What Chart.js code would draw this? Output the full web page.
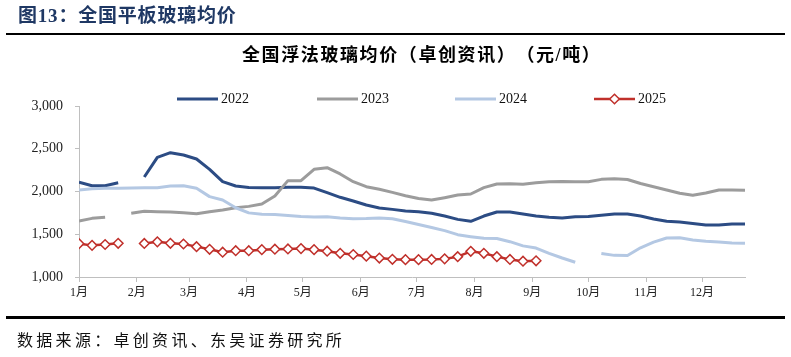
<!DOCTYPE html>
<html><head><meta charset="utf-8">
<script src="https://cdn.jsdelivr.net/npm/chart.js@4.4.1/dist/chart.umd.min.js"></script>
<style>
html,body{margin:0;padding:0;background:#fff;}
#wrap{position:relative;width:791px;height:357px;overflow:hidden;background:#fff;}
#c{position:absolute;left:0;top:0;}
.t{position:absolute;white-space:nowrap;font-family:"Liberation Serif","Noto Sans CJK SC",serif;text-spacing-trim:space-all;}
.rule{position:absolute;background:#000;}
.lg{position:absolute;font-family:"Liberation Serif",serif;font-size:14px;line-height:14px;color:#111;}
</style></head><body>
<div id="wrap">
<canvas id="c" width="791" height="357"></canvas>
<div class="t" id="mainTitle" style="left:18px;top:6px;font-size:19px;line-height:20px;font-weight:700;color:#1F3864;letter-spacing:0.8px;">图13：全国平板玻璃均价</div>
<div class="rule" style="left:6px;top:33px;width:779px;height:2px;"></div>
<div class="t" id="chartTitle" style="left:242px;top:45px;font-size:18px;line-height:20px;font-weight:700;color:#000;letter-spacing:1.6px;">全国浮法玻璃均价（卓创资讯）（元/吨）</div>
<div class="rule" style="left:6px;top:316px;width:779px;height:3px;"></div>
<div class="t" id="source" style="left:17px;top:332px;font-size:16px;line-height:18px;color:#111;letter-spacing:3.3px;">数据来源：卓创资讯、东吴证券研究所</div>
<div id="legend"></div>
</div>
<script>
// ---- data ----
const weeks = Array.from({length: 52}, (_, i) => i + 1); // week number categories
const monthLabels = ['1月','2月','3月','4月','5月','6月','7月','8月','9月','10月','11月','12月'];
const monthStartDay = [0,31,59,90,120,151,181,212,243,273,304,334];
const yTicks = [1000,1500,2000,2500,3000];
const seriesNames = ['2022','2023','2024','2025'];

const v2022 = [2108,2068,2068,2103,null,2170,2400,2454,2427,2380,2259,2115,2064,2047,2045,2045,2049,2049,2040,1986,1932,1889,1842,1807,1791,1772,1764,1745,1713,1674,1651,1713,1760,1760,1737,1713,1698,1690,1705,1708,1721,1737,1737,1713,1678,1651,1643,1627,1608,1608,1620,1620];
const v2023 = [1655,1686,1698,null,1745,1768,1764,1760,1752,1741,1764,1784,1811,1826,1854,1947,2127,2127,2259,2279,2205,2115,2056,2026,1990,1951,1918,1900,1928,1959,1971,2045,2088,2092,2084,2103,2115,2117,2115,2113,2142,2150,2140,2094,2056,2018,1979,1955,1983,2018,2018,2016];
const v2024 = [2018,2033,2037,2037,2041,2043,2045,2064,2068,2037,1940,1900,1810,1750,1735,1730,1718,1708,1702,1705,1690,1682,1684,1690,1682,1650,1615,1579,1542,1495,1472,1452,1450,1413,1364,1338,1277,1222,1172,null,1275,1253,1251,1342,1408,1456,1458,1433,1419,1409,1398,1394];
const v2025 = [1390,1370,1380,1394,null,1392,1411,1394,1386,1355,1324,1290,1308,1308,1320,1325,1328,1332,1320,1302,1277,1263,1244,1222,1207,1203,1203,1205,1212,1238,1300,1277,1238,1205,1185,1189];

const colors = ['#2C4C84','#9C9C9C','#B4C8E3','#C0302B'];
const widths = [3,3,3,2.5];
const values = [v2022, v2023, v2024, v2025];

function toPoints(arr){ return arr.map((v, i) => ({x: (weeks[i] - 1) * 7, y: v})); }

const datasets = values.map((arr, k) => ({
  label: seriesNames[k],
  data: toPoints(arr),
  borderColor: colors[k],
  backgroundColor: colors[k],
  borderWidth: widths[k],
  tension: 0,
  spanGaps: false,
  borderJoinStyle: 'round',
  pointRadius: k === 3 ? 4.8 : 0,
  pointStyle: 'rectRot',
  pointBackgroundColor: '#fff',
  pointBorderColor: colors[k],
  pointBorderWidth: 1.5,
  order: 4 - k
}));

const serif = '"Liberation Serif","Noto Sans CJK SC",serif';

new Chart(document.getElementById('c').getContext('2d'), {
  type: 'line',
  data: { datasets },
  options: {
    responsive: false,
    animation: false,
    layout: { padding: { top: 106, left: 0, right: 46, bottom: 55 } },
    plugins: { legend: { display: false }, tooltip: { enabled: false }, title: { display: false } },
    scales: {
      x: {
        type: 'linear', min: 0, max: 357,
        afterBuildTicks: s => { s.ticks = monthStartDay.map(v => ({ value: v })); },
        afterFit: s => { s.height = 25; },
        grid: { drawOnChartArea: false, drawTicks: true, tickLength: 5, color: '#BFBFBF', lineWidth: 1 },
        border: { color: '#BFBFBF', width: 1 },
        ticks: { autoSkip: false, maxRotation: 0, padding: 4, color: '#222',
          font: { family: serif, size: 12 },
          callback: (v, i) => monthLabels[i] }
      },
      y: {
        min: 1000, max: 3000,
        afterBuildTicks: s => { s.ticks = yTicks.map(v => ({ value: v })); },
        afterFit: s => { s.width = 79; },
        grid: { drawOnChartArea: false, drawTicks: true, tickLength: 4, color: '#BFBFBF' },
        border: { color: '#BFBFBF', width: 1 },
        ticks: { padding: 12, color: '#222', font: { family: serif, size: 14 },
          callback: v => Number(v).toLocaleString('en-US') }
      }
    }
  }
});

// ---- HTML legend ----
const legendLineX = [177, 317, 455, 594];
const lg = document.getElementById('legend');
seriesNames.forEach((name, k) => {
  const x = legendLineX[k];
  const svg = document.createElementNS('http://www.w3.org/2000/svg', 'svg');
  svg.setAttribute('width', '42'); svg.setAttribute('height', '14');
  svg.style.position = 'absolute'; svg.style.left = x + 'px'; svg.style.top = '92px';
  const ln = document.createElementNS('http://www.w3.org/2000/svg', 'line');
  ln.setAttribute('x1', '0'); ln.setAttribute('x2', '41'); ln.setAttribute('y1', '7'); ln.setAttribute('y2', '7');
  ln.setAttribute('stroke', colors[k]); ln.setAttribute('stroke-width', widths[k]);
  svg.appendChild(ln);
  if (k === 3) {
    const d = document.createElementNS('http://www.w3.org/2000/svg', 'polygon');
    d.setAttribute('points', '20.5,2.2 25.3,7 20.5,11.8 15.7,7');
    d.setAttribute('fill', '#fff'); d.setAttribute('stroke', colors[k]); d.setAttribute('stroke-width', '1.5');
    svg.appendChild(d);
  }
  lg.appendChild(svg);
  const t = document.createElement('div');
  t.className = 'lg'; t.textContent = name;
  t.style.left = (x + 44) + 'px'; t.style.top = '92px';
  lg.appendChild(t);
});
</script>
</body></html>
